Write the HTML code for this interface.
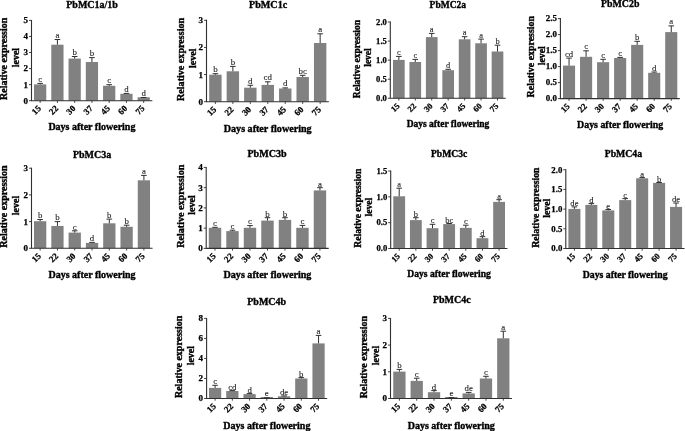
<!DOCTYPE html>
<html><head><meta charset="utf-8"><style>
html,body{margin:0;padding:0;background:#fff;overflow:hidden}
svg{display:block;will-change:transform}
text{font-family:"Liberation Serif",serif}
.ti{font-weight:bold;text-anchor:middle;fill:#000;stroke:#000;stroke-width:3.5px}
.tk{font-weight:bold;text-anchor:end;fill:#000;stroke:#000;stroke-width:2.5px}
.xl{font-weight:bold;text-anchor:end;fill:#000;stroke:#000;stroke-width:2.5px}
.l{text-anchor:middle;fill:#1a1a1a;stroke:#1a1a1a;stroke-width:1px}
</style></head><body>
<svg width="685" height="431" viewBox="0 0 685 431">
<g><rect x="34.02" y="84.4" width="12.25" height="16.3" fill="#818181"/><rect x="51.28" y="44.7" width="12.25" height="56" fill="#818181"/><rect x="68.54" y="58.6" width="12.25" height="42.1" fill="#818181"/><rect x="85.8" y="62" width="12.25" height="38.7" fill="#818181"/><rect x="103.06" y="85.8" width="12.25" height="14.9" fill="#818181"/><rect x="120.31" y="93.8" width="12.25" height="6.9" fill="#818181"/><rect x="137.57" y="97.3" width="12.25" height="3.4" fill="#818181"/><path d="M40.15 84.4V83.4M37.35 83.4H42.95M57.41 44.7V39.5M54.61 39.5H60.21M74.67 58.6V56.5M71.87 56.5H77.47M91.92 62V57.6M89.12 57.6H94.72M109.18 85.8V84.7M106.38 84.7H111.98M126.44 93.8V93.4M123.64 93.4H129.24M143.7 97.3V97.5M140.9 97.5H146.5" stroke="#303030" stroke-width="1" fill="none"/><text transform="translate(40.15,81.7) scale(0.1)" class="l" font-size="88">c</text><text transform="translate(57.41,37.8) scale(0.1)" class="l" font-size="88">a</text><text transform="translate(74.67,54.8) scale(0.1)" class="l" font-size="88">b</text><text transform="translate(91.92,55.9) scale(0.1)" class="l" font-size="88">b</text><text transform="translate(109.18,83) scale(0.1)" class="l" font-size="88">c</text><text transform="translate(126.44,91.7) scale(0.1)" class="l" font-size="88">d</text><text transform="translate(143.7,95.8) scale(0.1)" class="l" font-size="88">d</text><path d="M31.5 19.9V100.7H152.33" stroke="#303030" stroke-width="1.1" fill="none"/><text transform="translate(28,103.6) scale(0.1)" class="tk" font-size="90">0</text><text transform="translate(28,87.54) scale(0.1)" class="tk" font-size="90">1</text><text transform="translate(28,71.48) scale(0.1)" class="tk" font-size="90">2</text><text transform="translate(28,55.42) scale(0.1)" class="tk" font-size="90">3</text><text transform="translate(28,39.36) scale(0.1)" class="tk" font-size="90">4</text><text transform="translate(28,23.3) scale(0.1)" class="tk" font-size="90">5</text><text transform="translate(41.55,109) rotate(-45) scale(0.1)" class="xl" font-size="88">15</text><text transform="translate(58.81,109) rotate(-45) scale(0.1)" class="xl" font-size="88">22</text><text transform="translate(76.07,109) rotate(-45) scale(0.1)" class="xl" font-size="88">30</text><text transform="translate(93.32,109) rotate(-45) scale(0.1)" class="xl" font-size="88">37</text><text transform="translate(110.58,109) rotate(-45) scale(0.1)" class="xl" font-size="88">45</text><text transform="translate(127.84,109) rotate(-45) scale(0.1)" class="xl" font-size="88">60</text><text transform="translate(145.1,109) rotate(-45) scale(0.1)" class="xl" font-size="88">75</text><path d="M29 100.7H31.5M29 84.64H31.5M29 68.58H31.5M29 52.52H31.5M29 36.46H31.5M29 20.4H31.5M40.15 100.7V102.9M57.41 100.7V102.9M74.67 100.7V102.9M91.92 100.7V102.9M109.18 100.7V102.9M126.44 100.7V102.9M143.7 100.7V102.9" stroke="#303030" stroke-width="0.9" fill="none"/><text transform="translate(92.05,7.5) scale(0.1)" class="ti" font-size="100">PbMC1a/1b</text><text transform="translate(91.91,130.3) scale(0.1)" class="ti" font-size="100">Days after flowering</text><text transform="translate(7.3,58.85) rotate(-90) scale(0.1)" class="ti" font-size="100">Relative expression</text><text transform="translate(18.9,57.6) rotate(-90) scale(0.1)" class="ti" font-size="100">level</text></g>
<g><rect x="209.2" y="74.7" width="12.4" height="27" fill="#818181"/><rect x="226.66" y="71.3" width="12.4" height="30.4" fill="#818181"/><rect x="244.12" y="87.7" width="12.4" height="14" fill="#818181"/><rect x="261.58" y="84.9" width="12.4" height="16.8" fill="#818181"/><rect x="279.04" y="88.5" width="12.4" height="13.2" fill="#818181"/><rect x="296.49" y="77" width="12.4" height="24.7" fill="#818181"/><rect x="313.95" y="43" width="12.4" height="58.7" fill="#818181"/><path d="M215.4 74.7V73.7M212.6 73.7H218.2M232.86 71.3V66.4M230.06 66.4H235.66M250.32 87.7V85.3M247.52 85.3H253.12M267.77 84.9V81.8M264.97 81.8H270.57M285.23 88.5V87.9M282.43 87.9H288.03M302.69 77V75.3M299.89 75.3H305.49M320.15 43V33.8M317.35 33.8H322.95" stroke="#303030" stroke-width="1" fill="none"/><text transform="translate(215.4,72) scale(0.1)" class="l" font-size="88.88">b</text><text transform="translate(232.86,64.7) scale(0.1)" class="l" font-size="88.88">b</text><text transform="translate(250.32,83.6) scale(0.1)" class="l" font-size="88.88">d</text><text transform="translate(267.77,80.1) scale(0.1)" class="l" font-size="88.88">cd</text><text transform="translate(285.23,86.2) scale(0.1)" class="l" font-size="88.88">d</text><text transform="translate(302.69,73.6) scale(0.1)" class="l" font-size="88.88">bc</text><text transform="translate(320.15,32.1) scale(0.1)" class="l" font-size="88.88">a</text><path d="M206.5 19.8V101.7H328.88" stroke="#303030" stroke-width="1.1" fill="none"/><text transform="translate(203,104.63) scale(0.1)" class="tk" font-size="90.9">0</text><text transform="translate(203,77.5) scale(0.1)" class="tk" font-size="90.9">1</text><text transform="translate(203,50.36) scale(0.1)" class="tk" font-size="90.9">2</text><text transform="translate(203,23.23) scale(0.1)" class="tk" font-size="90.9">3</text><text transform="translate(216.8,110) rotate(-45) scale(0.1)" class="xl" font-size="88.88">15</text><text transform="translate(234.26,110) rotate(-45) scale(0.1)" class="xl" font-size="88.88">22</text><text transform="translate(251.72,110) rotate(-45) scale(0.1)" class="xl" font-size="88.88">30</text><text transform="translate(269.17,110) rotate(-45) scale(0.1)" class="xl" font-size="88.88">37</text><text transform="translate(286.63,110) rotate(-45) scale(0.1)" class="xl" font-size="88.88">45</text><text transform="translate(304.09,110) rotate(-45) scale(0.1)" class="xl" font-size="88.88">60</text><text transform="translate(321.55,110) rotate(-45) scale(0.1)" class="xl" font-size="88.88">75</text><path d="M204 101.7H206.5M204 74.57H206.5M204 47.43H206.5M204 20.3H206.5M215.4 101.7V103.9M232.86 101.7V103.9M250.32 101.7V103.9M267.77 101.7V103.9M285.23 101.7V103.9M302.69 101.7V103.9M320.15 101.7V103.9" stroke="#303030" stroke-width="0.9" fill="none"/><text transform="translate(268.1,7.5) scale(0.1)" class="ti" font-size="101">PbMC1c</text><text transform="translate(267.69,131.9) scale(0.1)" class="ti" font-size="101">Days after flowering</text><text transform="translate(184,59.45) rotate(-90) scale(0.1)" class="ti" font-size="101">Relative expression</text><text transform="translate(196,58.25) rotate(-90) scale(0.1)" class="ti" font-size="101">level</text></g>
<g><rect x="393.01" y="59.9" width="11.67" height="38.4" fill="#818181"/><rect x="409.45" y="62" width="11.67" height="36.3" fill="#818181"/><rect x="425.9" y="37.1" width="11.67" height="61.2" fill="#818181"/><rect x="442.34" y="70.2" width="11.67" height="28.1" fill="#818181"/><rect x="458.78" y="39.3" width="11.67" height="59" fill="#818181"/><rect x="475.22" y="43.3" width="11.67" height="55" fill="#818181"/><rect x="491.66" y="51.5" width="11.67" height="46.8" fill="#818181"/><path d="M398.85 59.9V56.4M396.05 56.4H401.65M415.29 62V59.4M412.49 59.4H418.09M431.73 37.1V33.4M428.93 33.4H434.53M448.18 70.2V69.3M445.38 69.3H450.98M464.62 39.3V36.7M461.82 36.7H467.42M481.06 43.3V39.1M478.26 39.1H483.86M497.5 51.5V45.2M494.7 45.2H500.3" stroke="#303030" stroke-width="1" fill="none"/><text transform="translate(398.85,54.9) scale(0.1)" class="l" font-size="83.78">c</text><text transform="translate(415.29,57.9) scale(0.1)" class="l" font-size="83.78">c</text><text transform="translate(431.73,31.9) scale(0.1)" class="l" font-size="83.78">a</text><text transform="translate(448.18,67.8) scale(0.1)" class="l" font-size="83.78">d</text><text transform="translate(464.62,35.2) scale(0.1)" class="l" font-size="83.78">a</text><text transform="translate(481.06,37.6) scale(0.1)" class="l" font-size="83.78">a</text><text transform="translate(497.5,43.7) scale(0.1)" class="l" font-size="83.78">b</text><path d="M390.3 21.5V98.3H505.72" stroke="#303030" stroke-width="1.1" fill="none"/><text transform="translate(386.8,101.06) scale(0.1)" class="tk" font-size="85.68">0.0</text><text transform="translate(386.8,81.99) scale(0.1)" class="tk" font-size="85.68">0.5</text><text transform="translate(386.8,62.91) scale(0.1)" class="tk" font-size="85.68">1.0</text><text transform="translate(386.8,43.84) scale(0.1)" class="tk" font-size="85.68">1.5</text><text transform="translate(386.8,24.76) scale(0.1)" class="tk" font-size="85.68">2.0</text><text transform="translate(400.25,106.6) rotate(-45) scale(0.1)" class="xl" font-size="83.78">15</text><text transform="translate(416.69,106.6) rotate(-45) scale(0.1)" class="xl" font-size="83.78">22</text><text transform="translate(433.13,106.6) rotate(-45) scale(0.1)" class="xl" font-size="83.78">30</text><text transform="translate(449.57,106.6) rotate(-45) scale(0.1)" class="xl" font-size="83.78">37</text><text transform="translate(466.02,106.6) rotate(-45) scale(0.1)" class="xl" font-size="83.78">45</text><text transform="translate(482.46,106.6) rotate(-45) scale(0.1)" class="xl" font-size="83.78">60</text><text transform="translate(498.9,106.6) rotate(-45) scale(0.1)" class="xl" font-size="83.78">75</text><path d="M387.8 98.3H390.3M387.8 79.22H390.3M387.8 60.15H390.3M387.8 41.08H390.3M387.8 22H390.3M398.85 98.3V100.5M415.29 98.3V100.5M431.73 98.3V100.5M448.18 98.3V100.5M464.62 98.3V100.5M481.06 98.3V100.5M497.5 98.3V100.5" stroke="#303030" stroke-width="0.9" fill="none"/><text transform="translate(447.8,7.7) scale(0.1)" class="ti" font-size="95.2">PbMC2a</text><text transform="translate(448.01,127) scale(0.1)" class="ti" font-size="95.2">Days after flowering</text><text transform="translate(359.7,59.05) rotate(-90) scale(0.1)" class="ti" font-size="95.2">Relative expression</text><text transform="translate(370.6,57.5) rotate(-90) scale(0.1)" class="ti" font-size="95.2">level</text></g>
<g><rect x="563" y="65.6" width="12.09" height="33" fill="#818181"/><rect x="580.04" y="56.8" width="12.09" height="41.8" fill="#818181"/><rect x="597.07" y="62.2" width="12.09" height="36.4" fill="#818181"/><rect x="614.1" y="58" width="12.09" height="40.6" fill="#818181"/><rect x="631.14" y="44.9" width="12.09" height="53.7" fill="#818181"/><rect x="648.17" y="72.8" width="12.09" height="25.8" fill="#818181"/><rect x="665.2" y="32.1" width="12.09" height="66.5" fill="#818181"/><path d="M569.05 65.6V58.1M566.25 58.1H571.85M586.08 56.8V50.8M583.28 50.8H588.88M603.12 62.2V59.3M600.32 59.3H605.92M620.15 58V57.4M617.35 57.4H622.95M637.18 44.9V41.3M634.38 41.3H639.98M654.22 72.8V72M651.42 72H657.02M671.25 32.1V25.9M668.45 25.9H674.05" stroke="#303030" stroke-width="1" fill="none"/><text transform="translate(569.05,56.6) scale(0.1)" class="l" font-size="87.12">cd</text><text transform="translate(586.08,49.3) scale(0.1)" class="l" font-size="87.12">c</text><text transform="translate(603.12,57.8) scale(0.1)" class="l" font-size="87.12">c</text><text transform="translate(620.15,55.9) scale(0.1)" class="l" font-size="87.12">c</text><text transform="translate(637.18,39.8) scale(0.1)" class="l" font-size="87.12">b</text><text transform="translate(654.22,70.5) scale(0.1)" class="l" font-size="87.12">d</text><text transform="translate(671.25,24.4) scale(0.1)" class="l" font-size="87.12">a</text><path d="M560.4 18.1V98.6H679.77" stroke="#303030" stroke-width="1.1" fill="none"/><text transform="translate(556.9,101.47) scale(0.1)" class="tk" font-size="89.1">0.0</text><text transform="translate(556.9,85.47) scale(0.1)" class="tk" font-size="89.1">0.5</text><text transform="translate(556.9,69.47) scale(0.1)" class="tk" font-size="89.1">1.0</text><text transform="translate(556.9,53.47) scale(0.1)" class="tk" font-size="89.1">1.5</text><text transform="translate(556.9,37.47) scale(0.1)" class="tk" font-size="89.1">2.0</text><text transform="translate(556.9,21.47) scale(0.1)" class="tk" font-size="89.1">2.5</text><text transform="translate(570.45,106.9) rotate(-45) scale(0.1)" class="xl" font-size="87.12">15</text><text transform="translate(587.48,106.9) rotate(-45) scale(0.1)" class="xl" font-size="87.12">22</text><text transform="translate(604.52,106.9) rotate(-45) scale(0.1)" class="xl" font-size="87.12">30</text><text transform="translate(621.55,106.9) rotate(-45) scale(0.1)" class="xl" font-size="87.12">37</text><text transform="translate(638.58,106.9) rotate(-45) scale(0.1)" class="xl" font-size="87.12">45</text><text transform="translate(655.62,106.9) rotate(-45) scale(0.1)" class="xl" font-size="87.12">60</text><text transform="translate(672.65,106.9) rotate(-45) scale(0.1)" class="xl" font-size="87.12">75</text><path d="M557.9 98.6H560.4M557.9 82.6H560.4M557.9 66.6H560.4M557.9 50.6H560.4M557.9 34.6H560.4M557.9 18.6H560.4M569.05 98.6V100.8M586.08 98.6V100.8M603.12 98.6V100.8M620.15 98.6V100.8M637.18 98.6V100.8M654.22 98.6V100.8M671.25 98.6V100.8" stroke="#303030" stroke-width="0.9" fill="none"/><text transform="translate(620.15,7.1) scale(0.1)" class="ti" font-size="99">PbMC2b</text><text transform="translate(620.08,128.1) scale(0.1)" class="ti" font-size="99">Days after flowering</text><text transform="translate(533.9,56.7) rotate(-90) scale(0.1)" class="ti" font-size="99">Relative expression</text><text transform="translate(545,55.75) rotate(-90) scale(0.1)" class="ti" font-size="99">level</text></g>
<g><rect x="34.01" y="221.2" width="12.28" height="27.1" fill="#818181"/><rect x="51.3" y="226" width="12.28" height="22.3" fill="#818181"/><rect x="68.59" y="232.6" width="12.28" height="15.7" fill="#818181"/><rect x="85.89" y="242.9" width="12.28" height="5.4" fill="#818181"/><rect x="103.18" y="223.3" width="12.28" height="25" fill="#818181"/><rect x="120.47" y="226.8" width="12.28" height="21.5" fill="#818181"/><rect x="137.76" y="180.3" width="12.28" height="68" fill="#818181"/><path d="M40.15 221.2V219.5M37.35 219.5H42.95M57.44 226V221.6M54.64 221.6H60.24M74.73 232.6V230.8M71.93 230.8H77.53M92.03 242.9V242.4M89.23 242.4H94.83M109.32 223.3V219.1M106.52 219.1H112.12M126.61 226.8V225.2M123.81 225.2H129.41M143.9 180.3V175.4M141.1 175.4H146.7" stroke="#303030" stroke-width="1" fill="none"/><text transform="translate(40.15,218.3) scale(0.1)" class="l" font-size="88">b</text><text transform="translate(57.44,220.4) scale(0.1)" class="l" font-size="88">b</text><text transform="translate(74.73,229.6) scale(0.1)" class="l" font-size="88">c</text><text transform="translate(92.03,241.2) scale(0.1)" class="l" font-size="88">d</text><text transform="translate(109.32,217.9) scale(0.1)" class="l" font-size="88">b</text><text transform="translate(126.61,224) scale(0.1)" class="l" font-size="88">b</text><text transform="translate(143.9,174.2) scale(0.1)" class="l" font-size="88">a</text><path d="M31.5 167.7V248.3H152.55" stroke="#303030" stroke-width="1.1" fill="none"/><text transform="translate(28,251.2) scale(0.1)" class="tk" font-size="90">0</text><text transform="translate(28,224.5) scale(0.1)" class="tk" font-size="90">1</text><text transform="translate(28,197.8) scale(0.1)" class="tk" font-size="90">2</text><text transform="translate(28,171.1) scale(0.1)" class="tk" font-size="90">3</text><text transform="translate(41.55,256.6) rotate(-45) scale(0.1)" class="xl" font-size="88">15</text><text transform="translate(58.84,256.6) rotate(-45) scale(0.1)" class="xl" font-size="88">22</text><text transform="translate(76.13,256.6) rotate(-45) scale(0.1)" class="xl" font-size="88">30</text><text transform="translate(93.43,256.6) rotate(-45) scale(0.1)" class="xl" font-size="88">37</text><text transform="translate(110.72,256.6) rotate(-45) scale(0.1)" class="xl" font-size="88">45</text><text transform="translate(128.01,256.6) rotate(-45) scale(0.1)" class="xl" font-size="88">60</text><text transform="translate(145.3,256.6) rotate(-45) scale(0.1)" class="xl" font-size="88">75</text><path d="M29 248.3H31.5M29 221.6H31.5M29 194.9H31.5M29 168.2H31.5M40.15 248.3V250.5M57.44 248.3V250.5M74.73 248.3V250.5M92.03 248.3V250.5M109.32 248.3V250.5M126.61 248.3V250.5M143.9 248.3V250.5" stroke="#303030" stroke-width="0.9" fill="none"/><text transform="translate(92.1,157.5) scale(0.1)" class="ti" font-size="100">PbMC3a</text><text transform="translate(92.02,277.9) scale(0.1)" class="ti" font-size="100">Days after flowering</text><text transform="translate(7.3,206.6) rotate(-90) scale(0.1)" class="ti" font-size="100">Relative expression</text><text transform="translate(18.9,205.45) rotate(-90) scale(0.1)" class="ti" font-size="100">level</text></g>
<g><rect x="208.79" y="227.8" width="12.42" height="20.6" fill="#818181"/><rect x="226.28" y="231.1" width="12.42" height="17.3" fill="#818181"/><rect x="243.77" y="227.8" width="12.42" height="20.6" fill="#818181"/><rect x="261.27" y="220.6" width="12.42" height="27.8" fill="#818181"/><rect x="278.76" y="219.9" width="12.42" height="28.5" fill="#818181"/><rect x="296.25" y="227.8" width="12.42" height="20.6" fill="#818181"/><rect x="313.74" y="190.4" width="12.42" height="58" fill="#818181"/><path d="M215 227.8V227.3M212.2 227.3H217.8M232.49 231.1V230.2M229.69 230.2H235.29M249.98 227.8V225.6M247.18 225.6H252.78M267.48 220.6V217.7M264.68 217.7H270.28M284.97 219.9V217.7M282.17 217.7H287.77M302.46 227.8V225.4M299.66 225.4H305.26M319.95 190.4V187.7M317.15 187.7H322.75" stroke="#303030" stroke-width="1" fill="none"/><text transform="translate(215,226.1) scale(0.1)" class="l" font-size="88.88">c</text><text transform="translate(232.49,229) scale(0.1)" class="l" font-size="88.88">c</text><text transform="translate(249.98,224.4) scale(0.1)" class="l" font-size="88.88">c</text><text transform="translate(267.48,216.5) scale(0.1)" class="l" font-size="88.88">b</text><text transform="translate(284.97,216.5) scale(0.1)" class="l" font-size="88.88">b</text><text transform="translate(302.46,224.2) scale(0.1)" class="l" font-size="88.88">c</text><text transform="translate(319.95,186.5) scale(0.1)" class="l" font-size="88.88">a</text><path d="M206.2 166.9V248.4H328.7" stroke="#303030" stroke-width="1.1" fill="none"/><text transform="translate(202.7,251.33) scale(0.1)" class="tk" font-size="90.9">0</text><text transform="translate(202.7,231.08) scale(0.1)" class="tk" font-size="90.9">1</text><text transform="translate(202.7,210.83) scale(0.1)" class="tk" font-size="90.9">2</text><text transform="translate(202.7,190.58) scale(0.1)" class="tk" font-size="90.9">3</text><text transform="translate(202.7,170.33) scale(0.1)" class="tk" font-size="90.9">4</text><text transform="translate(216.4,256.7) rotate(-45) scale(0.1)" class="xl" font-size="88.88">15</text><text transform="translate(233.89,256.7) rotate(-45) scale(0.1)" class="xl" font-size="88.88">22</text><text transform="translate(251.38,256.7) rotate(-45) scale(0.1)" class="xl" font-size="88.88">30</text><text transform="translate(268.88,256.7) rotate(-45) scale(0.1)" class="xl" font-size="88.88">37</text><text transform="translate(286.37,256.7) rotate(-45) scale(0.1)" class="xl" font-size="88.88">45</text><text transform="translate(303.86,256.7) rotate(-45) scale(0.1)" class="xl" font-size="88.88">60</text><text transform="translate(321.35,256.7) rotate(-45) scale(0.1)" class="xl" font-size="88.88">75</text><path d="M203.7 248.4H206.2M203.7 228.15H206.2M203.7 207.9H206.2M203.7 187.65H206.2M203.7 167.4H206.2M215 248.4V250.6M232.49 248.4V250.6M249.98 248.4V250.6M267.48 248.4V250.6M284.97 248.4V250.6M302.46 248.4V250.6M319.95 248.4V250.6" stroke="#303030" stroke-width="0.9" fill="none"/><text transform="translate(267,157.3) scale(0.1)" class="ti" font-size="101">PbMC3b</text><text transform="translate(267.45,278.4) scale(0.1)" class="ti" font-size="101">Days after flowering</text><text transform="translate(184,206.25) rotate(-90) scale(0.1)" class="ti" font-size="101">Relative expression</text><text transform="translate(194.9,205.05) rotate(-90) scale(0.1)" class="ti" font-size="101">level</text></g>
<g><rect x="393.29" y="196.3" width="11.82" height="52.2" fill="#818181"/><rect x="409.94" y="220.1" width="11.82" height="28.4" fill="#818181"/><rect x="426.59" y="228.2" width="11.82" height="20.3" fill="#818181"/><rect x="443.24" y="224.1" width="11.82" height="24.4" fill="#818181"/><rect x="459.89" y="227.9" width="11.82" height="20.6" fill="#818181"/><rect x="476.54" y="238.2" width="11.82" height="10.3" fill="#818181"/><rect x="493.19" y="201.9" width="11.82" height="46.6" fill="#818181"/><path d="M399.2 196.3V188.2M396.4 188.2H402M415.85 220.1V217.7M413.05 217.7H418.65M432.5 228.2V224.3M429.7 224.3H435.3M449.15 224.1V223.5M446.35 223.5H451.95M465.8 227.9V225.2M463 225.2H468.6M482.45 238.2V236.7M479.65 236.7H485.25M499.1 201.9V199.7M496.3 199.7H501.9" stroke="#303030" stroke-width="1" fill="none"/><text transform="translate(399.2,187.2) scale(0.1)" class="l" font-size="84.48">a</text><text transform="translate(415.85,216.7) scale(0.1)" class="l" font-size="84.48">b</text><text transform="translate(432.5,223.3) scale(0.1)" class="l" font-size="84.48">c</text><text transform="translate(449.15,222.5) scale(0.1)" class="l" font-size="84.48">bc</text><text transform="translate(465.8,224.2) scale(0.1)" class="l" font-size="84.48">c</text><text transform="translate(482.45,235.7) scale(0.1)" class="l" font-size="84.48">d</text><text transform="translate(499.1,198.7) scale(0.1)" class="l" font-size="84.48">a</text><path d="M390.7 170.5V248.5H507.43" stroke="#303030" stroke-width="1.1" fill="none"/><text transform="translate(387.2,251.28) scale(0.1)" class="tk" font-size="86.4">0.0</text><text transform="translate(387.2,225.45) scale(0.1)" class="tk" font-size="86.4">0.5</text><text transform="translate(387.2,199.62) scale(0.1)" class="tk" font-size="86.4">1.0</text><text transform="translate(387.2,173.78) scale(0.1)" class="tk" font-size="86.4">1.5</text><text transform="translate(400.6,256.8) rotate(-45) scale(0.1)" class="xl" font-size="84.48">15</text><text transform="translate(417.25,256.8) rotate(-45) scale(0.1)" class="xl" font-size="84.48">22</text><text transform="translate(433.9,256.8) rotate(-45) scale(0.1)" class="xl" font-size="84.48">30</text><text transform="translate(450.55,256.8) rotate(-45) scale(0.1)" class="xl" font-size="84.48">37</text><text transform="translate(467.2,256.8) rotate(-45) scale(0.1)" class="xl" font-size="84.48">45</text><text transform="translate(483.85,256.8) rotate(-45) scale(0.1)" class="xl" font-size="84.48">60</text><text transform="translate(500.5,256.8) rotate(-45) scale(0.1)" class="xl" font-size="84.48">75</text><path d="M388.2 248.5H390.7M388.2 222.67H390.7M388.2 196.83H390.7M388.2 171H390.7M399.2 248.5V250.7M415.85 248.5V250.7M432.5 248.5V250.7M449.15 248.5V250.7M465.8 248.5V250.7M482.45 248.5V250.7M499.1 248.5V250.7" stroke="#303030" stroke-width="0.9" fill="none"/><text transform="translate(449.1,157.2) scale(0.1)" class="ti" font-size="96">PbMC3c</text><text transform="translate(449.06,277.4) scale(0.1)" class="ti" font-size="96">Days after flowering</text><text transform="translate(361.3,208.15) rotate(-90) scale(0.1)" class="ti" font-size="96">Relative expression</text><text transform="translate(372.2,207.05) rotate(-90) scale(0.1)" class="ti" font-size="96">level</text></g>
<g><rect x="568.39" y="208.9" width="12.03" height="39.6" fill="#818181"/><rect x="585.33" y="204.9" width="12.03" height="43.6" fill="#818181"/><rect x="602.27" y="210.4" width="12.03" height="38.1" fill="#818181"/><rect x="619.21" y="200.1" width="12.03" height="48.4" fill="#818181"/><rect x="636.15" y="178.3" width="12.03" height="70.2" fill="#818181"/><rect x="653.09" y="182.9" width="12.03" height="65.6" fill="#818181"/><rect x="670.04" y="206.9" width="12.03" height="41.6" fill="#818181"/><path d="M574.4 208.9V206.9M571.6 206.9H577.2M591.34 204.9V203.6M588.54 203.6H594.14M608.28 210.4V209.5M605.48 209.5H611.08M625.22 200.1V198.6M622.42 198.6H628.02M642.17 178.3V177.6M639.37 177.6H644.97M659.11 182.9V182.5M656.31 182.5H661.91M676.05 206.9V203M673.25 203H678.85" stroke="#303030" stroke-width="1" fill="none"/><text transform="translate(574.4,206.1) scale(0.1)" class="l" font-size="85.8">de</text><text transform="translate(591.34,202.8) scale(0.1)" class="l" font-size="85.8">d</text><text transform="translate(608.28,208.7) scale(0.1)" class="l" font-size="85.8">e</text><text transform="translate(625.22,197.8) scale(0.1)" class="l" font-size="85.8">c</text><text transform="translate(642.17,176.8) scale(0.1)" class="l" font-size="85.8">a</text><text transform="translate(659.11,181.7) scale(0.1)" class="l" font-size="85.8">b</text><text transform="translate(676.05,202.2) scale(0.1)" class="l" font-size="85.8">de</text><path d="M565.8 169.2V248.5H684.52" stroke="#303030" stroke-width="1.1" fill="none"/><text transform="translate(562.3,251.33) scale(0.1)" class="tk" font-size="87.75">0.0</text><text transform="translate(562.3,231.63) scale(0.1)" class="tk" font-size="87.75">0.5</text><text transform="translate(562.3,211.93) scale(0.1)" class="tk" font-size="87.75">1.0</text><text transform="translate(562.3,192.23) scale(0.1)" class="tk" font-size="87.75">1.5</text><text transform="translate(562.3,172.53) scale(0.1)" class="tk" font-size="87.75">2.0</text><text transform="translate(575.8,256.8) rotate(-45) scale(0.1)" class="xl" font-size="85.8">15</text><text transform="translate(592.74,256.8) rotate(-45) scale(0.1)" class="xl" font-size="85.8">22</text><text transform="translate(609.68,256.8) rotate(-45) scale(0.1)" class="xl" font-size="85.8">30</text><text transform="translate(626.62,256.8) rotate(-45) scale(0.1)" class="xl" font-size="85.8">37</text><text transform="translate(643.57,256.8) rotate(-45) scale(0.1)" class="xl" font-size="85.8">45</text><text transform="translate(660.51,256.8) rotate(-45) scale(0.1)" class="xl" font-size="85.8">60</text><text transform="translate(677.45,256.8) rotate(-45) scale(0.1)" class="xl" font-size="85.8">75</text><path d="M563.3 248.5H565.8M563.3 228.8H565.8M563.3 209.1H565.8M563.3 189.4H565.8M563.3 169.7H565.8M574.4 248.5V250.7M591.34 248.5V250.7M608.28 248.5V250.7M625.22 248.5V250.7M642.17 248.5V250.7M659.11 248.5V250.7M676.05 248.5V250.7" stroke="#303030" stroke-width="0.9" fill="none"/><text transform="translate(623.4,157.2) scale(0.1)" class="ti" font-size="97.5">PbMC4a</text><text transform="translate(625.16,277.7) scale(0.1)" class="ti" font-size="97.5">Days after flowering</text><text transform="translate(539,207.65) rotate(-90) scale(0.1)" class="ti" font-size="97.5">Relative expression</text><text transform="translate(549.8,208.3) rotate(-90) scale(0.1)" class="ti" font-size="97.5">level</text></g>
<g><rect x="208.98" y="387.9" width="12.24" height="10.6" fill="#818181"/><rect x="226.22" y="391" width="12.24" height="7.5" fill="#818181"/><rect x="243.46" y="394.1" width="12.24" height="4.4" fill="#818181"/><rect x="260.7" y="398.3" width="12.24" height="0.2" fill="#818181"/><rect x="260.7" y="397.4" width="12.24" height="1.2" fill="#303030"/><rect x="277.95" y="396.3" width="12.24" height="2.2" fill="#818181"/><rect x="295.19" y="378.5" width="12.24" height="20" fill="#818181"/><rect x="312.43" y="343.4" width="12.24" height="55.1" fill="#818181"/><path d="M215.1 387.9V385.3M212.3 385.3H217.9M232.34 391V390.6M229.54 390.6H235.14M249.58 394.1V393.6M246.78 393.6H252.38M266.82 398.3V397.8M264.02 397.8H269.62M284.07 396.3V395.9M281.27 395.9H286.87M301.31 378.5V377.6M298.51 377.6H304.11M318.55 343.4V335.4M315.75 335.4H321.35" stroke="#303030" stroke-width="1" fill="none"/><text transform="translate(215.1,384.3) scale(0.1)" class="l" font-size="88">c</text><text transform="translate(232.34,389.6) scale(0.1)" class="l" font-size="88">cd</text><text transform="translate(249.58,392.6) scale(0.1)" class="l" font-size="88">d</text><text transform="translate(266.82,396.3) scale(0.1)" class="l" font-size="88">e</text><text transform="translate(284.07,394.9) scale(0.1)" class="l" font-size="88">de</text><text transform="translate(301.31,376.6) scale(0.1)" class="l" font-size="88">b</text><text transform="translate(318.55,334.4) scale(0.1)" class="l" font-size="88">a</text><path d="M206.6 317.9V398.5H327.17" stroke="#303030" stroke-width="1.1" fill="none"/><text transform="translate(203.1,401.4) scale(0.1)" class="tk" font-size="90">0</text><text transform="translate(203.1,381.38) scale(0.1)" class="tk" font-size="90">2</text><text transform="translate(203.1,361.35) scale(0.1)" class="tk" font-size="90">4</text><text transform="translate(203.1,341.32) scale(0.1)" class="tk" font-size="90">6</text><text transform="translate(203.1,321.3) scale(0.1)" class="tk" font-size="90">8</text><text transform="translate(216.5,406.8) rotate(-45) scale(0.1)" class="xl" font-size="88">15</text><text transform="translate(233.74,406.8) rotate(-45) scale(0.1)" class="xl" font-size="88">22</text><text transform="translate(250.98,406.8) rotate(-45) scale(0.1)" class="xl" font-size="88">30</text><text transform="translate(268.22,406.8) rotate(-45) scale(0.1)" class="xl" font-size="88">37</text><text transform="translate(285.47,406.8) rotate(-45) scale(0.1)" class="xl" font-size="88">45</text><text transform="translate(302.71,406.8) rotate(-45) scale(0.1)" class="xl" font-size="88">60</text><text transform="translate(319.95,406.8) rotate(-45) scale(0.1)" class="xl" font-size="88">75</text><path d="M204.1 398.5H206.6M204.1 378.48H206.6M204.1 358.45H206.6M204.1 338.42H206.6M204.1 318.4H206.6M215.1 398.5V400.7M232.34 398.5V400.7M249.58 398.5V400.7M266.82 398.5V400.7M284.07 398.5V400.7M301.31 398.5V400.7M318.55 398.5V400.7" stroke="#303030" stroke-width="0.9" fill="none"/><text transform="translate(266.7,305.2) scale(0.1)" class="ti" font-size="100">PbMC4b</text><text transform="translate(266.89,428.5) scale(0.1)" class="ti" font-size="100">Days after flowering</text><text transform="translate(182.4,356.9) rotate(-90) scale(0.1)" class="ti" font-size="100">Relative expression</text><text transform="translate(193.9,355.65) rotate(-90) scale(0.1)" class="ti" font-size="100">level</text></g>
<g><rect x="393.25" y="371.6" width="12.29" height="26.9" fill="#818181"/><rect x="410.57" y="380.9" width="12.29" height="17.6" fill="#818181"/><rect x="427.89" y="392.2" width="12.29" height="6.3" fill="#818181"/><rect x="445.2" y="397.8" width="12.29" height="0.7" fill="#818181"/><rect x="445.2" y="397.4" width="12.29" height="1.2" fill="#303030"/><rect x="462.52" y="393.4" width="12.29" height="5.1" fill="#818181"/><rect x="479.84" y="378.5" width="12.29" height="20" fill="#818181"/><rect x="497.15" y="338.3" width="12.29" height="60.2" fill="#818181"/><path d="M399.4 371.6V369.4M396.6 369.4H402.2M416.72 380.9V378.2M413.92 378.2H419.52M434.03 392.2V390.6M431.23 390.6H436.83M451.35 397.8V397.6M448.55 397.6H454.15M468.67 393.4V392.4M465.87 392.4H471.47M485.98 378.5V376.3M483.18 376.3H488.78M503.3 338.3V331.2M500.5 331.2H506.1" stroke="#303030" stroke-width="1" fill="none"/><text transform="translate(399.4,368.4) scale(0.1)" class="l" font-size="88">b</text><text transform="translate(416.72,377.2) scale(0.1)" class="l" font-size="88">c</text><text transform="translate(434.03,389.6) scale(0.1)" class="l" font-size="88">d</text><text transform="translate(451.35,395.9) scale(0.1)" class="l" font-size="88">e</text><text transform="translate(468.67,391.4) scale(0.1)" class="l" font-size="88">de</text><text transform="translate(485.98,375.3) scale(0.1)" class="l" font-size="88">c</text><text transform="translate(503.3,330.2) scale(0.1)" class="l" font-size="88">a</text><path d="M390.5 317.9V398.5H511.96" stroke="#303030" stroke-width="1.1" fill="none"/><text transform="translate(387,401.4) scale(0.1)" class="tk" font-size="90">0</text><text transform="translate(387,374.7) scale(0.1)" class="tk" font-size="90">1</text><text transform="translate(387,348) scale(0.1)" class="tk" font-size="90">2</text><text transform="translate(387,321.3) scale(0.1)" class="tk" font-size="90">3</text><text transform="translate(400.8,406.8) rotate(-45) scale(0.1)" class="xl" font-size="88">15</text><text transform="translate(418.12,406.8) rotate(-45) scale(0.1)" class="xl" font-size="88">22</text><text transform="translate(435.43,406.8) rotate(-45) scale(0.1)" class="xl" font-size="88">30</text><text transform="translate(452.75,406.8) rotate(-45) scale(0.1)" class="xl" font-size="88">37</text><text transform="translate(470.07,406.8) rotate(-45) scale(0.1)" class="xl" font-size="88">45</text><text transform="translate(487.38,406.8) rotate(-45) scale(0.1)" class="xl" font-size="88">60</text><text transform="translate(504.7,406.8) rotate(-45) scale(0.1)" class="xl" font-size="88">75</text><path d="M388 398.5H390.5M388 371.8H390.5M388 345.1H390.5M388 318.4H390.5M399.4 398.5V400.7M416.72 398.5V400.7M434.03 398.5V400.7M451.35 398.5V400.7M468.67 398.5V400.7M485.98 398.5V400.7M503.3 398.5V400.7" stroke="#303030" stroke-width="0.9" fill="none"/><text transform="translate(451.8,302.6) scale(0.1)" class="ti" font-size="100">PbMC4c</text><text transform="translate(451.23,428.5) scale(0.1)" class="ti" font-size="100">Days after flowering</text><text transform="translate(367,357.05) rotate(-90) scale(0.1)" class="ti" font-size="100">Relative expression</text><text transform="translate(378.8,355.45) rotate(-90) scale(0.1)" class="ti" font-size="100">level</text></g>
</svg></body></html>
